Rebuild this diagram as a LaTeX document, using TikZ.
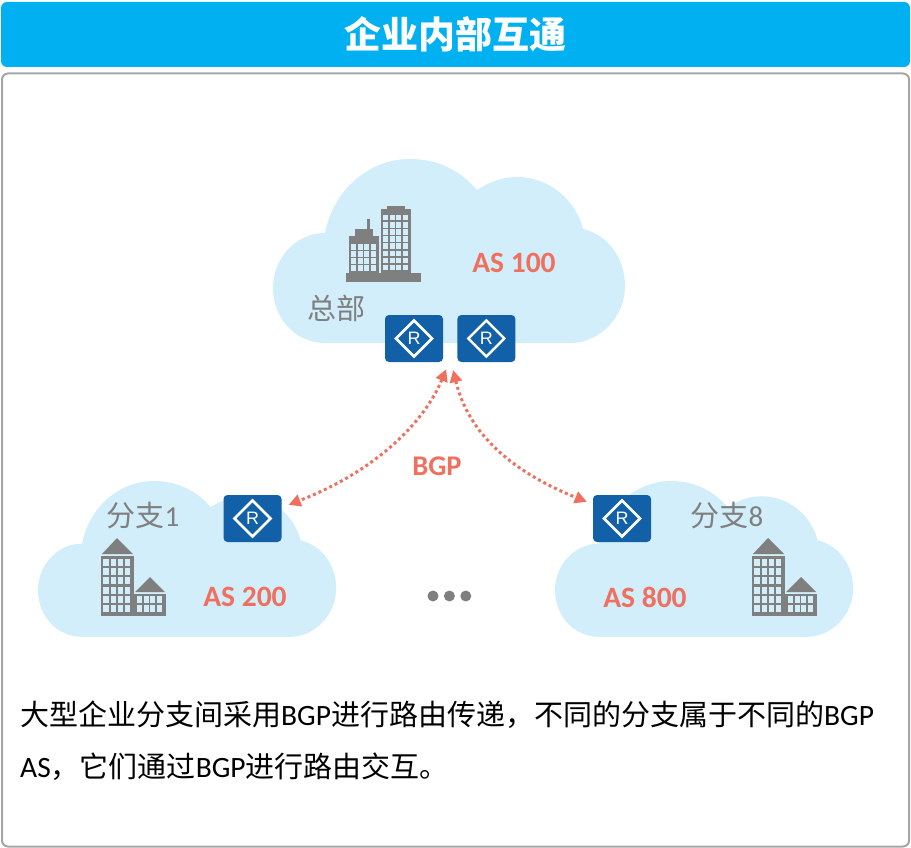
\documentclass[tikz,border=0pt]{standalone}
\usepackage{fontspec}
\setmainfont{Carlito}
\newfontfamily\cjk{Noto Sans CJK SC}
\newfontfamily\routerfont{Liberation Sans}
\usetikzlibrary{positioning,arrows.meta}
\definecolor{cloudblue}{HTML}{D2EEFA}
\definecolor{titleblue}{HTML}{00B0F0}
\definecolor{routerblue}{HTML}{1160A8}
\definecolor{bgpred}{HTML}{F07060}
\definecolor{bldgray}{HTML}{7F7F7F}
\definecolor{framegray}{HTML}{A6A6A6}
\newcommand{\fsize}[1]{\fontsize{#1pt}{#1pt}\selectfont}
\newcommand{\zh}[1]{{\cjk\fsize{29}#1}}
\tikzset{
	cloudshape/.pic={
		\fill[cloudblue] (52,184) .. controls (23,184) and (0,160) .. (0,129)
			.. controls (0,99) and (23,74) .. (52,74)
			.. controls (60,32) and (95,0) .. (137,0)
			.. controls (165,0) and (188,12) .. (204,31)
			.. controls (216,23) and (229,18) .. (244,18)
			.. controls (276,18) and (303,41) .. (310,70)
			.. controls (335,76) and (352,99) .. (352,127)
			.. controls (352,158) and (327,184) .. (297,184) -- cycle;
	},
	hqbuilding/.pic={
		\fill[bldgray] (0,67) rectangle (75,76);
		\fill[bldgray] (35,3) rectangle (65,67);
		\fill[bldgray] (41,0) rectangle (59,3);
		\fill[bldgray] (3,30) rectangle (33,67);
		\fill[bldgray] (9,23) rectangle (27,30);
		\fill[bldgray] (21,13) rectangle (24,23);
		\foreach \i in {0,...,3} {
			\foreach \j in {0,...,7}
				\fill[cloudblue] (37+6.6*\i,9+7.1*\j) rectangle +(5,5.5);
			\foreach \j in {0,...,3}
				\fill[cloudblue] (5+6.6*\i,38+7.1*\j) rectangle +(5,5.5);
		}
	},
	branchbuilding/.pic={
		\fill[bldgray] (16,0) -- (32,16) -- (1,16) -- cycle;
		\fill[bldgray] (0,18) rectangle (33,78);
		\fill[bldgray] (49,39) -- (64,54) -- (34,54) -- cycle;
		\fill[bldgray] (33,56) rectangle (65,78);
		\foreach \i in {0,...,3} {
			\foreach \j in {0,...,5}
				\fill[cloudblue] (2.3+7.2*\i,21+9.2*\j) rectangle +(5.4,7);
			\foreach \j in {0,1}
				\fill[cloudblue] (35.7+6.8*\i,58+9*\j) rectangle +(5,7);
		}
	},
	routerbox/.style={rectangle, rounded corners=4pt, fill=routerblue, text=white, inner sep=0pt,
		minimum width=58pt, minimum height=47pt, font=\routerfont\fsize{18},
		path picture={\draw[white, sharp corners, line width=2.6pt] ([shift={(-18,0)}]path picture bounding box.center)
			-- ([shift={(0,-18)}]path picture bounding box.center)
			-- ([shift={(18,0)}]path picture bounding box.center)
			-- ([shift={(0,18)}]path picture bounding box.center) -- cycle;}},
	astext/.style={text=bgpred, inner sep=0pt, font=\bfseries\fsize{29.5}},
	placetext/.style={text=bldgray, inner sep=0pt, font=\fsize{29}},
	bodytext/.style={text=black, inner sep=0pt, anchor=west, font=\fsize{29.5}},
	bgplink/.style={bgpred, line width=3pt, dash pattern=on 3pt off 3pt,
		{Triangle[length=12pt,width=12pt]}-{Triangle[length=12pt,width=12pt]}},
	dotmark/.style={circle, fill=bldgray, inner sep=0pt, minimum size=11pt}
}
\begin{document}
\begin{tikzpicture}[x=1pt, y=-1pt]
	\useasboundingbox (0,0) rectangle (911,848);
	\node [rectangle, rounded corners=6pt, fill=titleblue, text=white, inner sep=0pt, minimum width=909pt, minimum height=65pt] (title) at (455.5,34.5) {\cjk\bfseries\fsize{37}企业内部互通};
	\node [rectangle, rounded corners=6pt, draw=framegray, line width=2pt, inner sep=0pt, minimum width=907pt, minimum height=773pt] (panel) at (455.5,460) {};

	\pic at (273,159) {cloudshape};
	\pic [scale=0.847] at (38,481) {cloudshape};
	\pic [scale=0.847] at (555,481) {cloudshape};

	\pic at (346,206) {hqbuilding};
	\pic at (101,538) {branchbuilding};
	\pic at (752,538) {branchbuilding};

	\node [routerbox] (hqa) at (414,338.5) {R};
	\node [routerbox, right=14pt of hqa] (hqb) {R};
	\node [routerbox] (bra) at (252.5,518.5) {R};
	\node [routerbox] (brb) at (622,518.5) {R};

	\coordinate (tipa) at ([shift={(3,7)}]hqa.south east);
	\coordinate (tipb) at ([shift={(7,10)}]bra.north east);
	\coordinate (tipc) at ([shift={(-4,8)}]hqb.south west);
	\coordinate (tipd) at ([shift={(-6,7)}]brb.north west);
	\draw [bgplink] (tipa) .. controls +(-21,51) and +(90,-35) .. (tipb);
	\draw [bgplink] (tipc) .. controls +(12,50) and +(-92,-37) .. (tipd);

	\node [astext] (asa) at (514,263) {AS 100};
	\node [astext] (asb) at (245,597) {AS 200};
	\node [astext] (asc) at (645,597) {AS 800};
	\node [astext, font=\bfseries\fsize{28.5}] (bgp) at (437,466) {BGP};

	\node [placetext] (hq) at (336,308) {\cjk 总部};
	\node [placetext] (fa) at (143,516) {{\cjk 分支}1};
	\node [placetext] (fb) at (727,516) {{\cjk 分支}8};

	\node [dotmark] (da) at (433,596) {};
	\node [dotmark, right=5pt of da] (db) {};
	\node [dotmark, right=5pt of db] (dc) {};

	\node [bodytext] (linea) at (20,715) {\zh{大型企业分支间采用}BGP\zh{进行路由传递，不同的分支属于不同的}BGP};
	\node [bodytext] (lineb) at (20,767) {AS\zh{，它们通过}BGP\zh{进行路由交互。}};
\end{tikzpicture}
\end{document}
